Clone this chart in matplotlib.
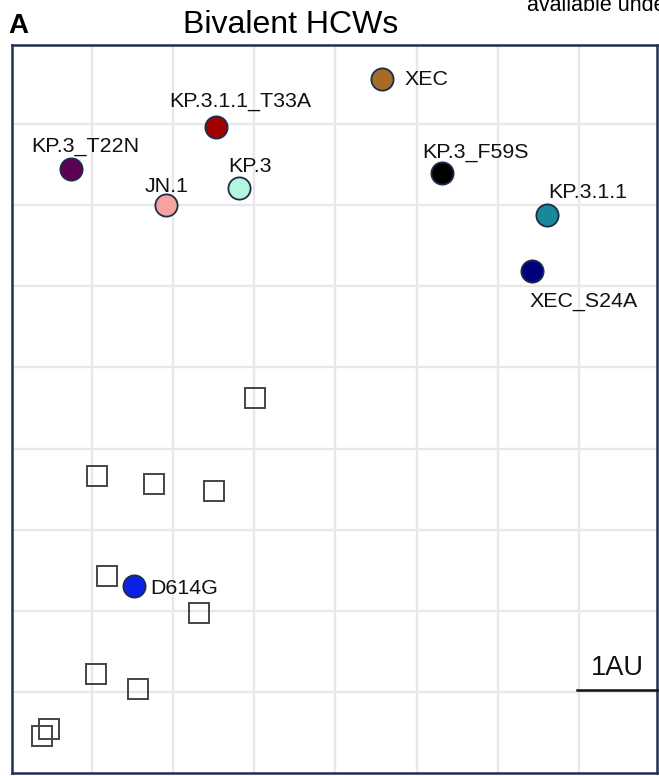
import matplotlib
matplotlib.use("Agg")
import matplotlib.pyplot as plt

plt.rcParams['font.family'] = ['Liberation Sans', 'DejaVu Sans']

# antigen positions (AU)
antigen_names = ["XEC", "KP.3.1.1_T33A", "KP.3_T22N", "JN.1", "KP.3",
                 "KP.3_F59S", "KP.3.1.1", "XEC_S24A", "D614G"]
antigen_x = [4.58, 2.53, 0.75, 1.92, 2.81, 5.31, 6.61, 6.42, 1.52]
antigen_y = [8.56, 7.96, 7.44, 7.00, 7.21, 7.40, 6.88, 6.19, 2.30]
antigen_colors = ["#a66b26", "#a00000", "#5e0052", "#f4a39f", "#b3f5dd",
                  "#000000", "#17899b", "#00007f", "#0b22e6"]

# sera positions (AU)
sera_x = [3.01, 1.07, 1.77, 2.51, 1.19, 2.32, 1.06, 1.57, 0.47, 0.39]
sera_y = [4.62, 3.66, 3.56, 3.48, 2.43, 1.97, 1.22, 1.03, 0.54, 0.45]

# label placement: (dx px, dy px, ha)
label_offsets = {
    "XEC": (22, -6, "left"),
    "KP.3.1.1_T33A": (24, 20, "center"),
    "KP.3_T22N": (14, 18, "center"),
    "JN.1": (0, 13, "center"),
    "KP.3": (11, 16, "center"),
    "KP.3_F59S": (34, 15, "center"),
    "KP.3.1.1": (40, 17, "center"),
    "XEC_S24A": (52, -36, "center"),
    "D614G": (16, -8, "left"),
}

W, H = 659, 776
fig = plt.figure(figsize=(W / 100, H / 100), dpi=100)
ax = fig.add_axes([12 / W, 3 / H, 645 / W, 728.5 / H])

ax.set_xlim(0.02, 7.96)
ax.set_ylim(0.0, 8.98)
ax.set_xticks(range(1, 8))
ax.set_yticks(range(1, 9))
ax.tick_params(length=0, labelbottom=False, labelleft=False)
ax.grid(True, color="#e8e8e8", linewidth=1.7)
ax.set_axisbelow(True)
for sp in ax.spines.values():
    sp.set_color("#1f3050")
    sp.set_linewidth(1.8)

ax.plot(sera_x, sera_y, linestyle="none", marker="s", markersize=14.5,
        markerfacecolor="none", markeredgecolor="#444444", markeredgewidth=1.4,
        zorder=3)

for name, x, y, c in zip(antigen_names, antigen_x, antigen_y, antigen_colors):
    ax.plot(x, y, marker="o", markersize=16, markerfacecolor=c,
            markeredgecolor="#1c2c4c", markeredgewidth=1.3, zorder=4)
    dx, dy, ha = label_offsets[name]
    ax.annotate(name, (x, y), xytext=(dx, dy), textcoords="offset pixels",
                ha=ha, va="baseline", fontsize=15.4, color="#111111", zorder=5)

# scale bar 1AU
ax.plot([7.0 - 0.02, 7.96], [1.02, 1.02], color="#111111", linewidth=1.8,
        clip_on=False, zorder=5)
ax.text(7.47, 1.21, "1AU", ha="center", va="baseline", fontsize=19.5,
        color="#111111")

fig.text(8 / W, 1 - 33 / H, "A", fontsize=20, fontweight="bold",
         ha="left", va="baseline")
fig.text(291 / W, 1 - 33 / H, "Bivalent HCWs", fontsize=23,
         ha="center", va="baseline")
fig.text(527 / W, 1 - 11 / H, "available under a", fontsize=15.5,
         ha="left", va="baseline")

fig.savefig("out.png", dpi=100)
